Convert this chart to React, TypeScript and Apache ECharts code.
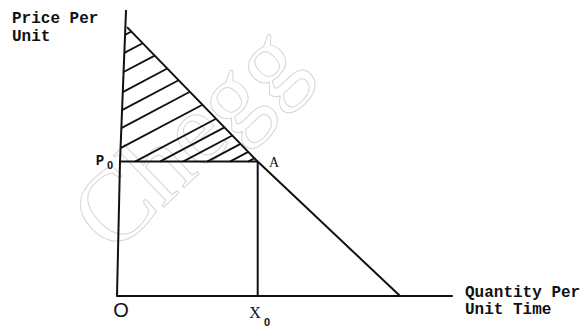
import React, { useEffect, useRef } from "react";
import * as echarts from "echarts";

// ---- data (quantity on x, price on y; both on 0..100 scales) ----
const priceAxisQ = [0, 0.9, 2.7];
const priceAxisP = [0, 47, 100];
const demandQ = [3, 42, 84.5];
const demandP = [94, 47, 0];
const X0 = 42;
const P0 = 47;
const hatchLeftP = [91.3, 85, 78.3, 71.3, 65, 58.7, 51.7];
const hatchBottomQ = [5.4, 12.8, 19.7, 26.9, 33.7, 39.1];
const hatchSlope = 0.62;
const labels = {
  yTitle: ["Price Per", "Unit"],
  xTitle: ["Quantity Per", "Unit Time"],
  origin: "O",
  p0: "P",
  x0: "X",
  sub: "0",
  a: "A",
  watermark: "Chegg",
};

function buildHatch(): number[][][] {
  const dSlope = (demandP[0] - demandP[1]) / (demandQ[1] - demandQ[0]);
  const dConst = demandP[0] + dSlope * demandQ[0];
  const axSlope = (priceAxisQ[2] - priceAxisQ[1]) / (priceAxisP[2] - priceAxisP[1]);
  const segs: number[][][] = [];
  const endOf = (xs: number, ys: number) => {
    const x = (dConst - ys + hatchSlope * xs) / (hatchSlope + dSlope);
    const y = ys + hatchSlope * (x - xs);
    return [x, y];
  };
  hatchLeftP.forEach((p) => {
    const xs = priceAxisQ[1] + axSlope * (p - priceAxisP[1]);
    segs.push([[xs, p], endOf(xs, p)]);
  });
  hatchBottomQ.forEach((q) => {
    segs.push([[q, P0], endOf(q, P0)]);
  });
  return segs;
}

export default function App() {
  const ref = useRef<HTMLDivElement>(null);
  useEffect(() => {
    if (!ref.current) return;
    const chart = echarts.init(ref.current, null, { renderer: "svg" });
    const ink = "#111";
    const lineStyle = { color: ink, width: 2 };
    const mono = '"Liberation Mono", "DejaVu Sans Mono", monospace';
    const hatch = buildHatch();
    chart.setOption({
      animation: false,
      backgroundColor: "#fff",
      grid: { left: 117, right: 133, top: 10, bottom: 31 },
      xAxis: {
        type: "value",
        min: 0,
        max: 100,
        axisLine: { show: true, lineStyle: { color: ink, width: 2 } },
        axisTick: { show: false },
        axisLabel: { show: false },
        splitLine: { show: false },
      },
      yAxis: {
        type: "value",
        min: 0,
        max: 100,
        axisLine: { show: false },
        axisTick: { show: false },
        axisLabel: { show: false },
        splitLine: { show: false },
      },
      series: [
        {
          type: "line",
          data: priceAxisQ.map((q, i) => [q, priceAxisP[i]]),
          symbol: "none",
          lineStyle,
          z: 3,
        },
        {
          type: "line",
          data: demandQ.map((q, i) => [q, demandP[i]]),
          symbol: "none",
          lineStyle,
          z: 3,
        },
        {
          type: "line",
          data: [
            [priceAxisQ[1], P0],
            [X0, P0],
          ],
          symbol: "none",
          lineStyle,
          z: 3,
        },
        {
          type: "line",
          data: [
            [X0, 0],
            [X0, P0],
          ],
          symbol: "none",
          lineStyle,
          z: 3,
        },
        {
          type: "lines",
          coordinateSystem: "cartesian2d",
          data: hatch.map((c) => ({ coords: c })),
          lineStyle: { color: ink, width: 1.8, opacity: 1 },
          z: 3,
        },
      ],
      graphic: [
        {
          type: "text",
          x: 186,
          y: 137,
          rotation: 0.76,
          z: 0,
          silent: true,
          style: {
            text: labels.watermark,
            font: '104px "Liberation Serif", serif',
            fill: "transparent",
            stroke: "#d6d6d6",
            lineWidth: 1,
            align: "center",
            verticalAlign: "middle",
          },
        },
        {
          type: "text",
          x: 12,
          y: 19,
          style: { text: labels.yTitle[0], font: `bold 16px ${mono}`, fill: ink, align: "left", verticalAlign: "middle" },
        },
        {
          type: "text",
          x: 12,
          y: 37,
          style: { text: labels.yTitle[1], font: `bold 16px ${mono}`, fill: ink, align: "left", verticalAlign: "middle" },
        },
        {
          type: "text",
          x: 465,
          y: 293,
          style: { text: labels.xTitle[0], font: `bold 16px ${mono}`, fill: ink, align: "left", verticalAlign: "middle" },
        },
        {
          type: "text",
          x: 465,
          y: 310,
          style: { text: labels.xTitle[1], font: `bold 16px ${mono}`, fill: ink, align: "left", verticalAlign: "middle" },
        },
        {
          type: "text",
          x: 121,
          y: 310,
          style: { text: labels.origin, font: '20px "Liberation Sans", sans-serif', fill: ink, align: "center", verticalAlign: "middle" },
        },
        {
          type: "text",
          x: 255,
          y: 312,
          style: { text: labels.x0, font: '16px "Liberation Serif", serif', fill: ink, align: "center", verticalAlign: "middle" },
        },
        {
          type: "text",
          x: 267,
          y: 322,
          style: { text: labels.sub, font: 'bold 11px "Liberation Sans", sans-serif', fill: ink, align: "center", verticalAlign: "middle" },
        },
        {
          type: "text",
          x: 100,
          y: 161,
          style: { text: labels.p0, font: `bold 14px ${mono}`, fill: ink, align: "center", verticalAlign: "middle" },
        },
        {
          type: "text",
          x: 110,
          y: 165,
          style: { text: labels.sub, font: 'bold 11px "Liberation Sans", sans-serif', fill: ink, align: "center", verticalAlign: "middle" },
        },
        {
          type: "text",
          x: 274,
          y: 162,
          style: { text: labels.a, font: '14px "Liberation Serif", serif', fill: ink, align: "center", verticalAlign: "middle" },
        },
      ],
    });
    return () => chart.dispose();
  }, []);
  return (
    <div
      ref={ref}
      style={{ position: "fixed", left: 0, top: 0, width: 585, height: 327, background: "#fff" }}
    />
  );
}
